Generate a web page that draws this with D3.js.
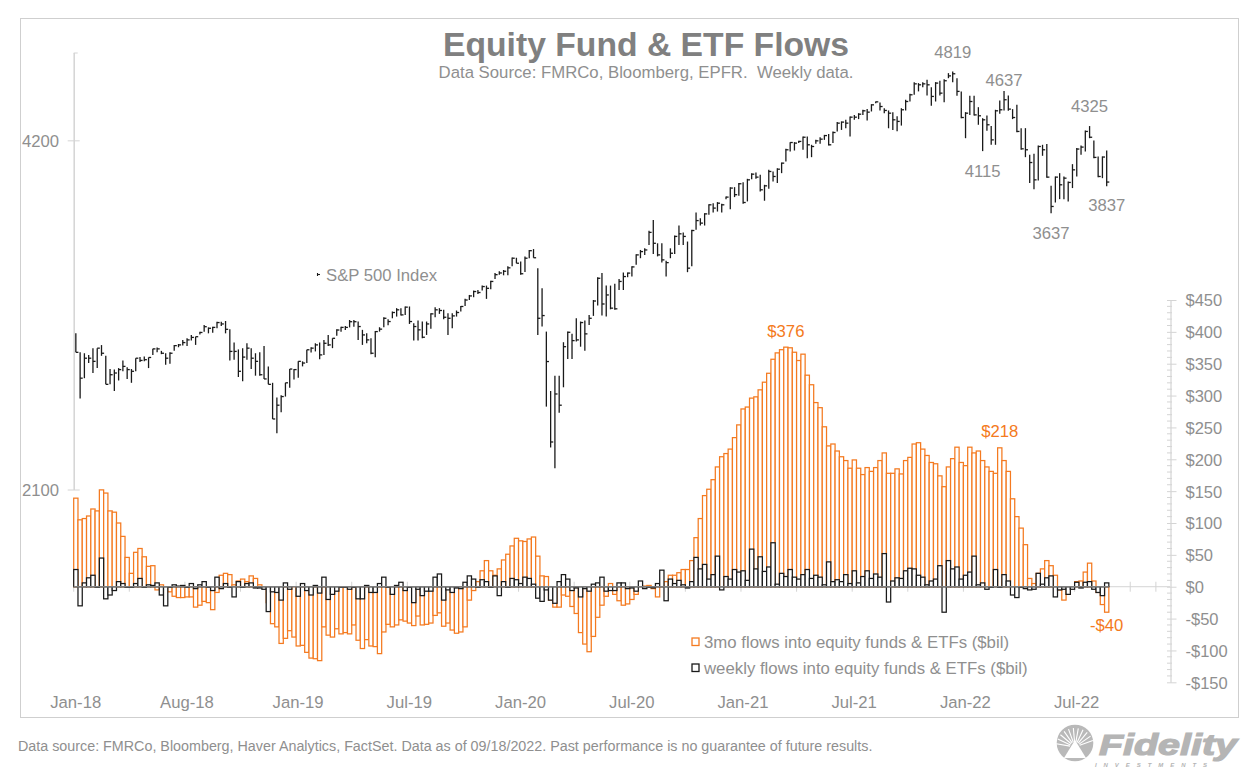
<!DOCTYPE html>
<html>
<head>
<meta charset="utf-8">
<title>Equity Fund & ETF Flows</title>
<script src="https://cdn.jsdelivr.net/npm/d3@7"></script>
<style>
  html, body { margin: 0; background: #fff; }
  svg { display: block; font-family: "Liberation Sans", Arial, sans-serif; }
  text { fill: #8f8f8f; font-size: 16.7px; }
  .axis path, .axis line { stroke: #d4d4d4; }
  .flowlabel { fill: #f47a20; }
</style>
</head>
<body>
<svg id="chart" width="1259" height="776"></svg>
<script>
// S&P 500 weekly high / low / close
const spxHigh = [
  2866,2760,2755,2746,2783,2783,2800,2741,2670,2667,
  2675,2716,2680,2670,2728,2734,2737,2732,2779,2786,
  2768,2755,2760,2801,2806,2829,2838,2857,2847,2875,
  2914,2900,2904,2933,2933,2937,2889,2814,2776,2783,
  2810,2783,2755,2760,2795,2684,2598,2523,2535,2598,
  2670,2670,2711,2711,2774,2788,2810,2814,2829,2857,
  2838,2889,2904,2908,2943,2943,2934,2886,2867,2838,
  2880,2901,2959,2947,2993,3013,3013,3023,3023,2924,
  2940,2934,2934,2983,3019,3013,3003,2983,2983,2999,
  3026,3069,3093,3120,3124,3151,3151,3181,3231,3242,
  3250,3275,3332,3330,3305,3338,3382,3388,3261,3134,
  2876,2556,2635,2635,2816,2876,2863,2953,2934,2940,
  2973,3062,3203,3231,3151,3151,3162,3192,3234,3234,
  3274,3353,3382,3393,3513,3590,3427,3427,3310,3393,
  3481,3550,3502,3439,3520,3643,3602,3638,3704,3711,
  3719,3706,3761,3831,3831,3862,3869,3895,3939,3944,
  3926,3849,3965,3952,3978,4023,4134,4189,4189,4200,
  4236,4236,4167,4208,4230,4250,4258,4279,4359,4365,
  4379,4408,4422,4437,4467,4473,4517,4541,4532,4481,
  4461,4446,4410,4481,4557,4611,4719,4710,4719,4741,
  4672,4719,4732,4747,4804,4820,4756,4633,4446,4593,
  4593,4490,4393,4416,4326,4467,4551,4637,4596,4473,
  4511,4307,4307,4085,4094,4162,4167,4173,3841,3913,
  3939,3913,3874,4010,4140,4162,4287,4325,4203,4072,4072,4120
];
const spxLow = [
  2760,2518,2622,2702,2649,2675,2741,2590,2590,2556,
  2610,2658,2618,2598,2658,2707,2711,2675,2746,2760,
  2750,2693,2698,2768,2788,2797,2795,2825,2801,2860,
  2875,2866,2870,2895,2908,2866,2716,2720,2628,2606,
  2720,2670,2635,2635,2618,2590,2418,2350,2450,2528,
  2572,2615,2624,2684,2702,2759,2765,2723,2746,2795,
  2783,2852,2875,2885,2900,2904,2829,2801,2810,2750,
  2733,2876,2901,2912,2953,2963,2969,2973,2920,2825,
  2825,2838,2857,2892,2959,2979,2947,2857,2895,2963,
  2993,3026,3062,3079,3099,3120,3069,3128,3192,3220,
  3216,3216,3275,3294,3220,3237,3327,3330,2857,2905,
  2478,2285,2193,2448,2575,2724,2724,2820,2791,2768,
  2914,2967,3029,2969,2963,3006,3003,3124,3123,3204,
  3208,3284,3327,3349,3416,3355,3339,3298,3208,3327,
  3355,3416,3416,3236,3274,3520,3550,3550,3626,3643,
  3650,3643,3741,3667,3756,3766,3706,3724,3892,3895,
  3798,3729,3818,3874,3862,3939,4031,4112,4120,4181,
  4126,4058,4066,4175,4175,4208,4161,4181,4279,4292,
  4306,4236,4379,4385,4422,4373,4452,4526,4461,4437,
  4306,4292,4280,4329,4461,4541,4602,4633,4672,4596,
  4502,4541,4596,4535,4756,4719,4593,4393,4222,4422,
  4416,4336,4115,4284,4167,4167,4431,4461,4458,4385,
  4273,4126,4066,3862,3816,3882,4077,3903,3637,3716,
  3741,3741,3724,3824,3913,4085,4112,4222,4058,3908,3900,3837
];
const spxClose = [
  2760,2622,2728,2728,2711,2783,2755,2590,2640,2649,
  2667,2684,2667,2658,2728,2716,2720,2732,2779,2779,
  2755,2728,2755,2797,2801,2814,2829,2843,2847,2871,
  2904,2895,2900,2928,2920,2889,2765,2765,2658,2734,
  2783,2728,2711,2640,2618,2590,2418,2485,2528,2598,
  2670,2667,2711,2702,2774,2783,2801,2746,2810,2801,
  2838,2885,2900,2900,2933,2933,2905,2857,2829,2755,
  2876,2890,2953,2934,2987,3003,2973,3019,2934,2905,
  2886,2844,2920,2979,3003,2999,2959,2953,2967,2987,
  3023,3062,3087,3114,3108,3145,3134,3177,3220,3231,
  3242,3264,3327,3294,3226,3327,3377,3330,2953,2969,
  2710,2310,2541,2485,2791,2872,2825,2829,2928,2863,
  2953,3056,3197,3038,3093,3013,3009,3177,3208,3230,
  3270,3349,3371,3382,3502,3427,3349,3316,3298,3360,
  3474,3492,3474,3262,3515,3585,3567,3633,3699,3675,
  3711,3699,3756,3824,3774,3857,3716,3887,3931,3908,
  3811,3841,3952,3913,3970,4018,4126,4186,4181,4195,
  4230,4167,4153,4200,4214,4244,4167,4270,4350,4359,
  4350,4402,4402,4428,4458,4446,4511,4538,4496,4461,
  4437,4379,4365,4467,4541,4602,4703,4694,4703,4694,
  4587,4710,4617,4732,4778,4798,4633,4399,4437,4541,
  4422,4414,4379,4336,4208,4458,4467,4557,4473,4399,
  4279,4134,4126,4023,3887,4153,4126,3908,3687,3908,
  3849,3900,3867,3965,4132,4148,4279,4230,4064,3913,4067,3870
];

// 3 month flows, $bil
const flows3mo = [
  139,105,107,111,122,119,152,147,119,117,
  100,79,46,21,54,60,47,32,33,-5,
  3,0,-8,-15,-17,-17,-16,-16,-32,-29,
  -23,-25,-36,-9,18,21,19,3,9,12,
  8,17,13,3,0,-25,-58,-63,-89,-81,
  -69,-79,-93,-92,-103,-112,-113,-116,-63,-76,
  -79,-66,-74,-72,-74,-60,-84,
  -97,-83,-93,-94,-105,-71,-59,-63,-60,-52,
  -54,-57,-61,-46,-60,-59,-57,-45,-41,-62,
  -57,-68,-73,-71,-63,-21,-6,8,25,41,
  25,18,28,42,51,64,76,72,71,75,
  78,48,17,16,-21,-32,-32,-13,-15,-31,
  -42,-72,-90,-102,-78,-48,-29,-15,5,-12,
  -22,-29,-27,-20,-12,0,1,2,-3,-16,
  3,8,18,18,22,27,27,41,77,107,
  143,153,168,188,204,209,216,234,254,279,
  282,296,298,309,321,335,357,367,372,376,
  375,368,355,365,332,317,289,281,251,221,
  224,213,204,198,186,199,186,176,187,181,
  187,198,210,178,178,185,177,198,203,224,
  226,216,206,195,193,174,157,188,201,219,
  195,190,219,210,213,198,188,181,178,218,
  198,181,138,110,92,66,13,5,21,28,
  41,33,18,-5,-21,-12,0,8,9,23,
  37,9,-9,-28,-40
];

// weekly flows, $bil
const flowsWeekly = [
  27,-30,6,14,18,-1,45,-19,-13,-6,
  8,5,-1,-1,5,13,-1,3,2,6,
  -13,-30,-1,3,1,2,-1,5,-3,3,
  8,-1,-6,15,-3,5,-1,-16,8,-1,
  5,6,-2,-2,-4,-39,-8,-9,-21,6,
  -4,0,-15,5,-6,-13,2,-10,15,-20,
  -12,-7,-1,-1,-4,-1,-19,
  -19,
  2,-9,-9,5,15,-1,-12,2,7,-6,
  -1,-25,-4,-14,-7,-7,15,20,-21,-5,
  -9,-2,-3,7,17,12,-1,11,8,-1,
  17,-14,8,-1,13,11,5,15,13,4,
  -18,-23,-5,-21,-26,8,19,12,-6,-2,
  -16,-3,-7,4,6,15,-7,-6,-6,6,
  6,-3,-2,-7,9,-3,-1,-2,5,
  26,-22,12,5,10,3,-2,8,46,28,
  35,12,19,48,-5,16,12,27,23,25,
  10,59,28,47,24,31,69,4,21,16,
  27,15,12,19,27,13,18,15,3,39,
  8,11,8,19,5,25,6,16,25,13,
  20,15,52,-24,9,14,
  13,25,29,28,18,15,3,9,12,33,
  -40,41,28,31,12,18,23,48,3,6,
  -4,-1,27,-1,19,9,-13,-17,-1,-3,
  -5,-4,21,4,14,17,-16,-5,-4,-12,
  -4,7,-2,7,8,-4,-9,-14,6
];

const dateLabels = ['Jan-18','Aug-18','Jan-19','Jul-19','Jan-20','Jul-20','Jan-21','Jul-21','Jan-22','Jul-22'];
const spxTicks = [2100, 4200];
const flowTicks = [-150,-100,-50,0,50,100,150,200,250,300,350,400,450];

// notes on the S&P bars: [week index, price, text, label offset]
const spxNotes = [
  [205, 4819, '4819', -14],
  [217, 4637, '4637', -5],
  [212, 4115, '4115', 26],
  [237, 4325, '4325', -14],
  [241, 3837, '3837', 25],
  [228, 3637, '3637', 26]
];
const flowNotes = [
  [166, 376, '$376', -10.5],
  [216, 218, '$218', -11],
  [241, -40, '-$40', 19]
];

const WEEKS_PER_TICK = 13;
const orange = '#f47a20';
const dark = '#1a1a1a';

const svg = d3.select('#chart');

// frame
svg.append('rect')
  .attr('x', 20.5).attr('y', 18.5)
  .attr('width', 1218).attr('height', 699)
  .attr('fill', 'none').attr('stroke', '#cfcfcf');

// week index -> x, one slot per week
const x = d3.scaleLinear().domain([-0.5, 255.8]).range([73.7, 1170]);
const ySpx = d3.scaleLog().domain([2100, 5000]).range([490, 53]);
const yFlow = d3.scaleLinear().domain([-150, 450]).range([682.3, 300]);

// title
svg.append('text')
  .attr('x', 646).attr('y', 56)
  .attr('text-anchor', 'middle')
  .style('font-size', '33.7px').style('font-weight', 'bold').style('fill', '#808080')
  .text('Equity Fund & ETF Flows');
svg.append('text')
  .attr('x', 646).attr('y', 77.5)
  .attr('text-anchor', 'middle').attr('xml:space', 'preserve')
  .style('font-size', '16.75px')
  .text('Data Source: FMRCo, Bloomberg, EPFR.  Weekly data.');

// left axis (log)
const leftAxis = svg.append('g').attr('class', 'axis');
leftAxis.append('line')
  .attr('x1', x(-0.5) + 0.5).attr('x2', x(-0.5) + 0.5)
  .attr('y1', ySpx(5000)).attr('y2', ySpx(2100))
  .attr('stroke-width', 1.5);
leftAxis.append('line')
  .attr('x1', x(-0.5)).attr('x2', x(-0.5) + 4)
  .attr('y1', ySpx(5000)).attr('y2', ySpx(5000));
leftAxis.selectAll('.major')
  .data(spxTicks)
  .join('line')
  .attr('x1', x(-0.5) - 6).attr('x2', x(-0.5) + 6)
  .attr('y1', d => ySpx(d)).attr('y2', d => ySpx(d));
leftAxis.selectAll('text')
  .data(spxTicks)
  .join('text')
  .attr('x', 22).attr('y', d => ySpx(d) + 6)
  .text(d => d);

// right axis with $10 minor ticks
const rightAxis = svg.append('g')
  .attr('class', 'axis')
  .attr('transform', 'translate(1170.5,0)')
  .call(d3.axisRight(yFlow)
    .tickValues(flowTicks)
    .tickSize(6)
    .tickPadding(9)
    .tickSizeOuter(0)
    .tickFormat(d => (d < 0 ? '-$' + (-d) : '$' + d)));
rightAxis.select('.domain').attr('stroke-width', 1.2);
rightAxis.selectAll('.tick line').attr('x1', -3.5);
rightAxis.selectAll('.tick text').style('font-size', '16.5px').style('font-family', 'inherit').attr('dy', '0.36em');
rightAxis.selectAll('.minor')
  .data(d3.range(-150, 451, 10).filter(d => d % 50 !== 0))
  .join('line')
  .attr('x1', -3.5).attr('x2', 1.5)
  .attr('y1', d => yFlow(d)).attr('y2', d => yFlow(d));

// zero line and week ticks
const timeAxis = svg.append('g').attr('class', 'axis');
const tickWeeks = d3.range(0, 248, WEEKS_PER_TICK).concat([253]);
timeAxis.selectAll('line.tick')
  .data(tickWeeks)
  .join('line')
  .attr('class', 'tick')
  .attr('x1', d => x(d - 0.5)).attr('x2', d => x(d - 0.5))
  .attr('y1', yFlow(0) - 5).attr('y2', yFlow(0) + 5);
timeAxis.append('line')
  .attr('x1', x(-0.5)).attr('x2', x(255.8))
  .attr('y1', yFlow(0)).attr('y2', yFlow(0));

timeAxis.selectAll('text')
  .data(dateLabels)
  .join('text')
  .attr('x', (d, i) => x(i * 2 * WEEKS_PER_TICK - 0.5) + 2)
  .attr('y', 708)
  .attr('text-anchor', 'middle')
  .text(d => d);

// bars: 3mo behind, weekly on top
function drawBars(values, color, fill) {
  svg.append('g')
    .selectAll('rect')
    .data(values)
    .join('rect')
    .attr('x', (d, i) => x(i - 0.5))
    .attr('width', x(1) - x(0))
    .attr('y', d => Math.min(yFlow(d), yFlow(0)))
    .attr('height', d => Math.abs(yFlow(d) - yFlow(0)))
    .attr('fill', fill)
    .attr('stroke', color)
    .attr('stroke-width', 1.25);
}
drawBars(flows3mo, orange, '#fff');
drawBars(flowsWeekly, dark, '#fff');

// dark base where the bars sit on the zero line
svg.append('line')
  .attr('x1', x(-0.5)).attr('x2', x(flowsWeekly.length - 0.5))
  .attr('y1', yFlow(0)).attr('y2', yFlow(0))
  .attr('stroke', '#7f7f7f').attr('stroke-width', 1.4);

// high-low-close bars
const spx = svg.append('g').attr('stroke', dark).attr('stroke-width', 1.3);
spx.selectAll('line.hl')
  .data(spxHigh)
  .join('line')
  .attr('class', 'hl')
  .attr('x1', (d, i) => x(i)).attr('x2', (d, i) => x(i))
  .attr('y1', d => ySpx(d))
  .attr('y2', (d, i) => ySpx(spxLow[i]));
spx.selectAll('line.close')
  .data(spxClose)
  .join('line')
  .attr('class', 'close')
  .attr('x1', (d, i) => x(i)).attr('x2', (d, i) => x(i) + 2.6)
  .attr('y1', d => ySpx(d)).attr('y2', d => ySpx(d));

// annotations
svg.append('g').selectAll('text')
  .data(spxNotes)
  .join('text')
  .attr('x', d => x(d[0]))
  .attr('y', d => ySpx(d[1]) + d[3])
  .attr('text-anchor', 'middle')
  .text(d => d[2]);
svg.append('g').selectAll('text')
  .data(flowNotes)
  .join('text')
  .attr('class', 'flowlabel')
  .attr('x', d => x(d[0]))
  .attr('y', d => yFlow(d[1]) + d[3])
  .attr('text-anchor', 'middle')
  .text(d => d[2]);

// S&P legend
svg.append('line')
  .attr('x1', 317.5).attr('x2', 317.5).attr('y1', 273).attr('y2', 276)
  .attr('stroke', dark).attr('stroke-width', 1.1);
svg.append('line')
  .attr('x1', 317.5).attr('x2', 320).attr('y1', 274.5).attr('y2', 274.5)
  .attr('stroke', dark).attr('stroke-width', 1.1);
svg.append('text').attr('x', 326).attr('y', 281).text('S&P 500 Index');

// flow legend
const legend = [
  ['3mo flows into equity funds & ETFs ($bil)', orange, 648],
  ['weekly flows into equity funds & ETFs ($bil)', dark, 674]
];
legend.forEach(([label, color, base]) => {
  svg.append('rect')
    .attr('x', 692).attr('y', base - 10)
    .attr('width', 7).attr('height', 7.5)
    .attr('fill', '#fff').attr('stroke', color).attr('stroke-width', 1.3);
  svg.append('text').attr('x', 704).attr('y', base).style('font-size', '16.8px').text(label);
});

// footnote
svg.append('text')
  .attr('x', 18).attr('y', 751)
  .style('font-size', '14.32px')
  .text('Data source: FMRCo, Bloomberg, Haver Analytics, FactSet. Data as of 09/18/2022. Past performance is no guarantee of future results.');

// logo
const logo = svg.append('g').attr('transform', 'translate(1075,743)');
logo.append('circle').attr('r', 18.3).attr('fill', '#b9b9b9');
d3.range(-170, -5, 15).forEach(a => {
  const r = a * Math.PI / 180;
  logo.append('line')
    .attr('x1', 5 * Math.cos(r)).attr('y1', 4 + 5 * Math.sin(r))
    .attr('x2', 19 * Math.cos(r)).attr('y2', 4 + 19 * Math.sin(r))
    .attr('stroke', '#fff').attr('stroke-width', 1.1);
});
logo.append('path').attr('d', 'M-11,15 L0,-3 L11,15 Z').attr('fill', '#fff');
svg.append('text')
  .attr('x', 1099).attr('y', 755)
  .style('font-size', '29px').style('font-weight', 'bold').style('font-style', 'italic')
  .style('fill', '#b5b5b5').style('stroke', '#b5b5b5').style('stroke-width', 1.2)
  .attr('textLength', 138).attr('lengthAdjust', 'spacingAndGlyphs')
  .text('Fidelity');
svg.append('text')
  .attr('x', 1095).attr('y', 767)
  .style('font-size', '6px').style('font-weight', 'bold').style('font-style', 'italic')
  .style('fill', '#b5b5b5')
  .attr('textLength', 112)
  .text('INVESTMENTS');
</script>
</body>
</html>
